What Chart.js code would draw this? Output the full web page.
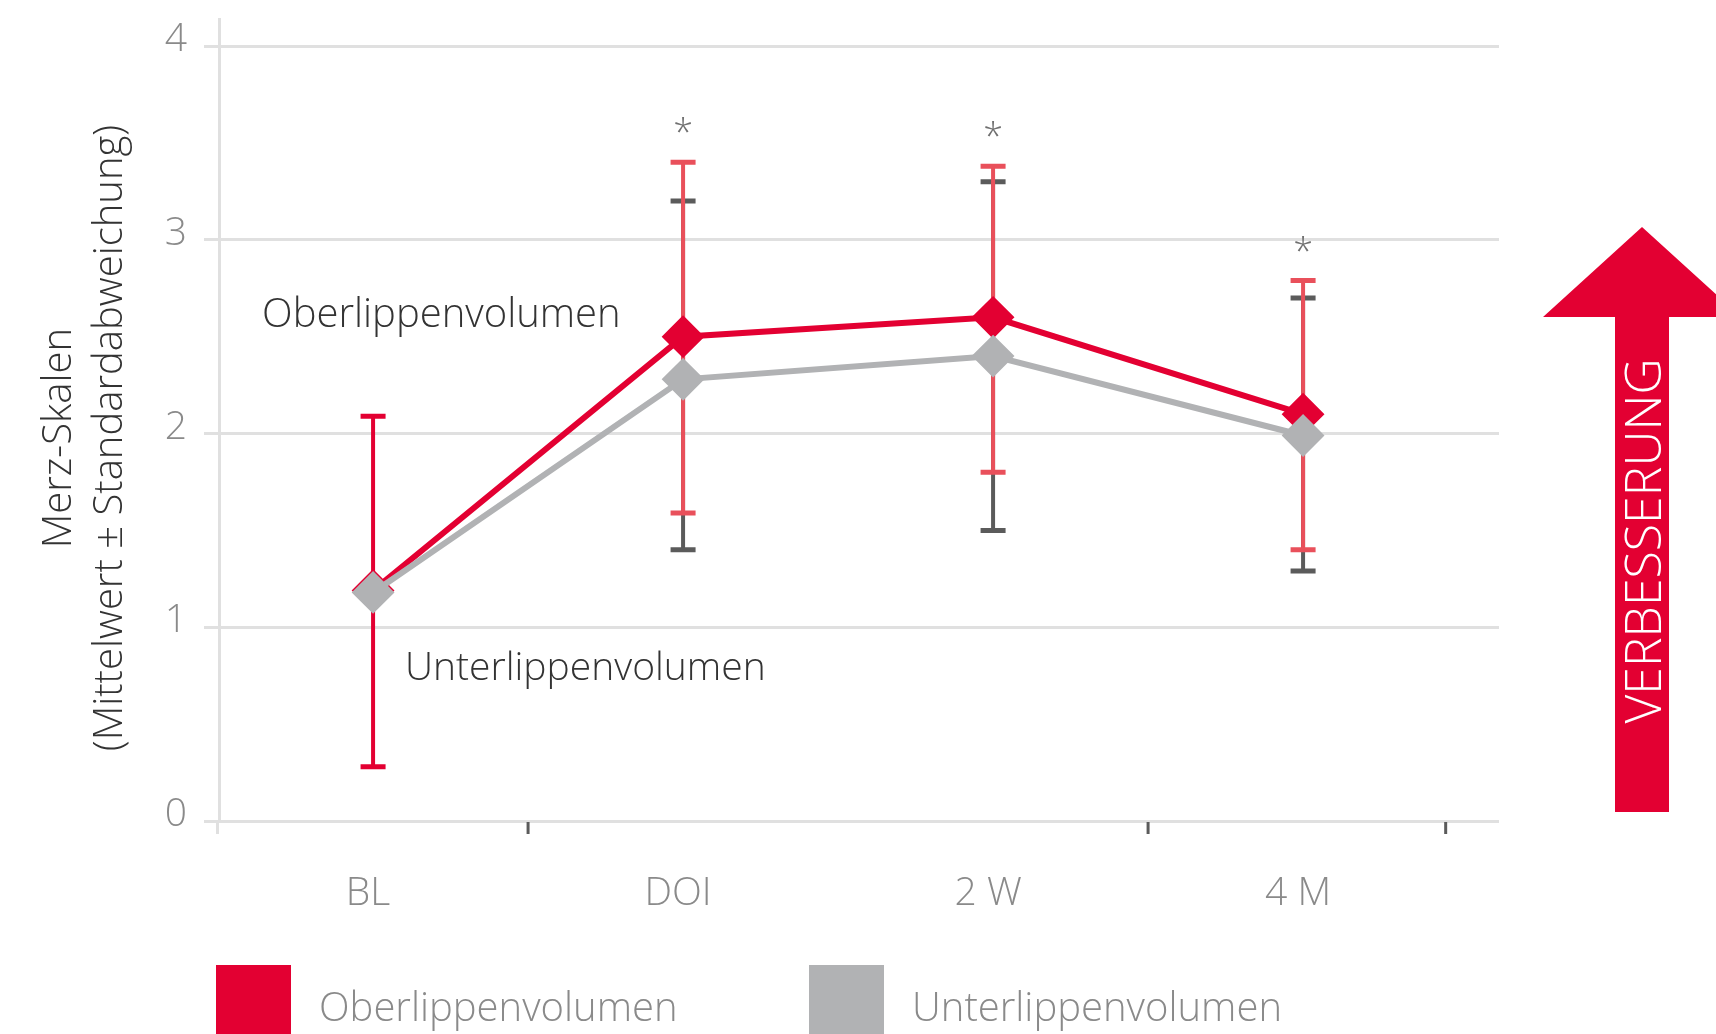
<!DOCTYPE html>
<html lang="de">
<head>
  <meta charset="UTF-8" />
  <title>Merz-Skalen Lippenvolumen</title>
  <script src="https://cdn.jsdelivr.net/npm/chart.js"></script>
  <style>
    html, body { margin: 0; padding: 0; background: #ffffff; overflow: hidden; }
    .chart-box { position: relative; width: 1716px; height: 1034px; }
  </style>
</head>
<body>
<div class="chart-box"><canvas id="lipChart"></canvas></div>

<script>
  // Zeitpunkte und Werte (Mittelwert, Mittelwert ± SD)
  const xLabels = ['BL', 'DOI', '2 W', '4 M'];
  const yTicks = [0, 1, 2, 3, 4];
  const yTitle = ['Merz-Skalen', '(Mittelwert ± Standardabweichung)'];

  const oberMean = [1.19, 2.50, 2.60, 2.10];
  const oberLow  = [0.28, 1.59, 1.80, 1.40];
  const oberHigh = [2.09, 3.40, 3.38, 2.79];

  const unterMean = [1.18, 2.28, 2.40, 1.99];
  const unterLow  = [null, 1.40, 1.50, 1.29];
  const unterHigh = [null, 3.20, 3.30, 2.70];

  const significant = [false, true, true, true];
  const xTickMarks = [0.5, 2.5, 3.46];

  const RED = '#e30032';
  const GREY = '#b1b2b4';
  const FONT = "'Open Sans', 'Noto Sans', sans-serif";

  const series = [
    { label: 'Oberlippenvolumen', mean: oberMean, low: oberLow, high: oberHigh, color: RED,
      barColors: [RED, '#e9505b', '#e9505b', '#e9505b'] },
    { label: 'Unterlippenvolumen', mean: unterMean, low: unterLow, high: unterHigh, color: GREY,
      barColors: ['#5b5b5b', '#5b5b5b', '#5b5b5b', '#5b5b5b'] }
  ];

  function drawErrorBars(ctx, xs, ys, s) {
    s.mean.forEach((m, i) => {
      if (s.low[i] == null) return;
      const x = xs.getPixelForValue(i);
      const yl = ys.getPixelForValue(s.low[i]);
      const yh = ys.getPixelForValue(s.high[i]);
      ctx.strokeStyle = s.barColors[i];
      ctx.lineWidth = 4;
      ctx.beginPath();
      ctx.moveTo(x, yl); ctx.lineTo(x, yh);
      ctx.stroke();
      ctx.lineWidth = 5;
      ctx.beginPath();
      ctx.moveTo(x - 12.5, yl); ctx.lineTo(x + 12.5, yl);
      ctx.moveTo(x - 12.5, yh); ctx.lineTo(x + 12.5, yh);
      ctx.stroke();
    });
  }

  const decor = {
    id: 'decor',
    beforeDatasetsDraw(chart) {
      const { ctx, scales: { x, y } } = chart;
      ctx.save();
      // grey bars first, red ones on top
      drawErrorBars(ctx, x, y, series[1]);
      drawErrorBars(ctx, x, y, series[0]);
      ctx.restore();
    },
    afterDatasetsDraw(chart) {
      const { ctx, scales: { x, y } } = chart;
      ctx.save();
      // significance stars
      ctx.fillStyle = '#707070';
      ctx.font = `300 36px ${FONT}`;
      ctx.textAlign = 'center';
      ctx.textBaseline = 'alphabetic';
      significant.forEach((sig, i) => {
        if (!sig) return;
        const top = Math.max(oberHigh[i], unterHigh[i] || 0);
        ctx.fillText('*', x.getPixelForValue(i), y.getPixelForValue(top) - 17);
      });
      // series names in the plot
      ctx.fillStyle = '#333333';
      ctx.font = `300 40px ${FONT}`;
      ctx.textAlign = 'left';
      ctx.fillText(series[0].label, x.getPixelForValue(-0.358), y.getPixelForValue(2.55));
      ctx.font = `300 39px ${FONT}`;
      ctx.fillText(series[1].label, x.getPixelForValue(0.103), y.getPixelForValue(0.73));
      ctx.restore();
    },
    afterDraw(chart) {
      const { ctx, chartArea, scales: { x } } = chart;
      ctx.save();
      // y axis title, two rotated lines
      ctx.fillStyle = '#333333';
      ctx.font = `300 40px ${FONT}`;
      ctx.textAlign = 'center';
      ctx.textBaseline = 'middle';
      yTitle.forEach((t, i) => {
        ctx.save();
        ctx.translate(60 + i * 51, 438);
        ctx.rotate(-Math.PI / 2);
        ctx.fillText(t, 0, 0);
        ctx.restore();
      });

      // axis extension + tick marks below the x axis
      ctx.lineWidth = 3;
      ctx.strokeStyle = '#e0e0e0';
      ctx.beginPath();
      ctx.moveTo(chartArea.left - 1.5, chartArea.bottom);
      ctx.lineTo(chartArea.left - 1.5, chartArea.bottom + 13);
      ctx.stroke();
      ctx.strokeStyle = '#5b5b5b';
      xTickMarks.forEach(v => {
        const px = x.getPixelForValue(v);
        ctx.beginPath();
        ctx.moveTo(px, chartArea.bottom + 1);
        ctx.lineTo(px, chartArea.bottom + 13);
        ctx.stroke();
      });

      // arrow "VERBESSERUNG"
      ctx.fillStyle = RED;
      ctx.beginPath();
      ctx.moveTo(1642, 227);
      ctx.lineTo(1741, 317);
      ctx.lineTo(1669, 317);
      ctx.lineTo(1669, 812);
      ctx.lineTo(1615, 812);
      ctx.lineTo(1615, 317);
      ctx.lineTo(1543, 317);
      ctx.closePath();
      ctx.fill();
      ctx.save();
      ctx.translate(1661, 541);
      ctx.rotate(-Math.PI / 2);
      ctx.fillStyle = '#ffffff';
      ctx.font = `300 50px ${FONT}`;
      ctx.textAlign = 'center';
      ctx.textBaseline = 'alphabetic';
      ctx.fillText('VERBESSERUNG', 0, 0);
      ctx.restore();

      // legend
      ctx.textBaseline = 'alphabetic';
      chart.data.datasets.forEach((ds, i) => {
        const lx = 216 + i * 593;
        ctx.fillStyle = ds.borderColor;
        ctx.fillRect(lx, 965, 75, 75);
        ctx.fillStyle = '#8a8a8a';
        ctx.font = `300 40px ${FONT}`;
        ctx.textAlign = 'left';
        ctx.fillText(ds.label, lx + 103, 1021);
      });
      ctx.restore();
    }
  };

  new Chart(document.getElementById('lipChart'), {
    type: 'line',
    data: {
      datasets: series.map((s, i) => ({
        label: s.label,
        data: s.mean.map((v, j) => ({ x: j, y: v })),
        borderColor: s.color,
        backgroundColor: s.color,
        borderWidth: 6,
        pointStyle: 'rectRot',
        pointRadius: 20,
        pointBorderWidth: 2,
        pointBorderColor: s.color,
        pointBackgroundColor: s.color,
        tension: 0,
        order: 2 - i
      }))
    },
    options: {
      responsive: true,
      maintainAspectRatio: false,
      animation: false,
      events: [],
      layout: { autoPadding: false, padding: { top: 19, right: 217, bottom: 0, left: 0 } },
      plugins: { legend: { display: false }, tooltip: { enabled: false } },
      scales: {
        x: {
          type: 'linear',
          min: -0.497,
          max: 3.632,
          afterBuildTicks: s => { s.ticks = xLabels.map((_, i) => ({ value: i })); },
          afterFit: s => { s.height = 213; s.paddingLeft = 0; s.paddingRight = 0; },
          grid: { display: false, drawTicks: false },
          border: { display: false },
          ticks: {
            callback: v => xLabels[v],
            color: '#8a8a8a',
            padding: 49,
            labelOffset: -5,
            maxRotation: 0,
            font: { family: FONT, size: 39, weight: 300, lineHeight: 1.2 }
          }
        },
        y: {
          min: 0,
          max: 4.14,
          afterBuildTicks: s => { s.ticks = yTicks.map(v => ({ value: v })); },
          afterFit: s => { s.width = 219; s.paddingTop = 0; s.paddingBottom = 0; },
          grid: { color: '#e0e0e0', lineWidth: 3, tickLength: 15, tickColor: '#e0e0e0' },
          border: { color: '#e0e0e0', width: 3 },
          ticks: {
            color: '#8a8a8a',
            padding: 17,
            labelOffset: -6,
            font: { family: FONT, size: 39, weight: 300, lineHeight: 0.9 }
          },
          title: { display: false }
        }
      }
    },
    plugins: [decor]
  });
</script>
</body>
</html>
